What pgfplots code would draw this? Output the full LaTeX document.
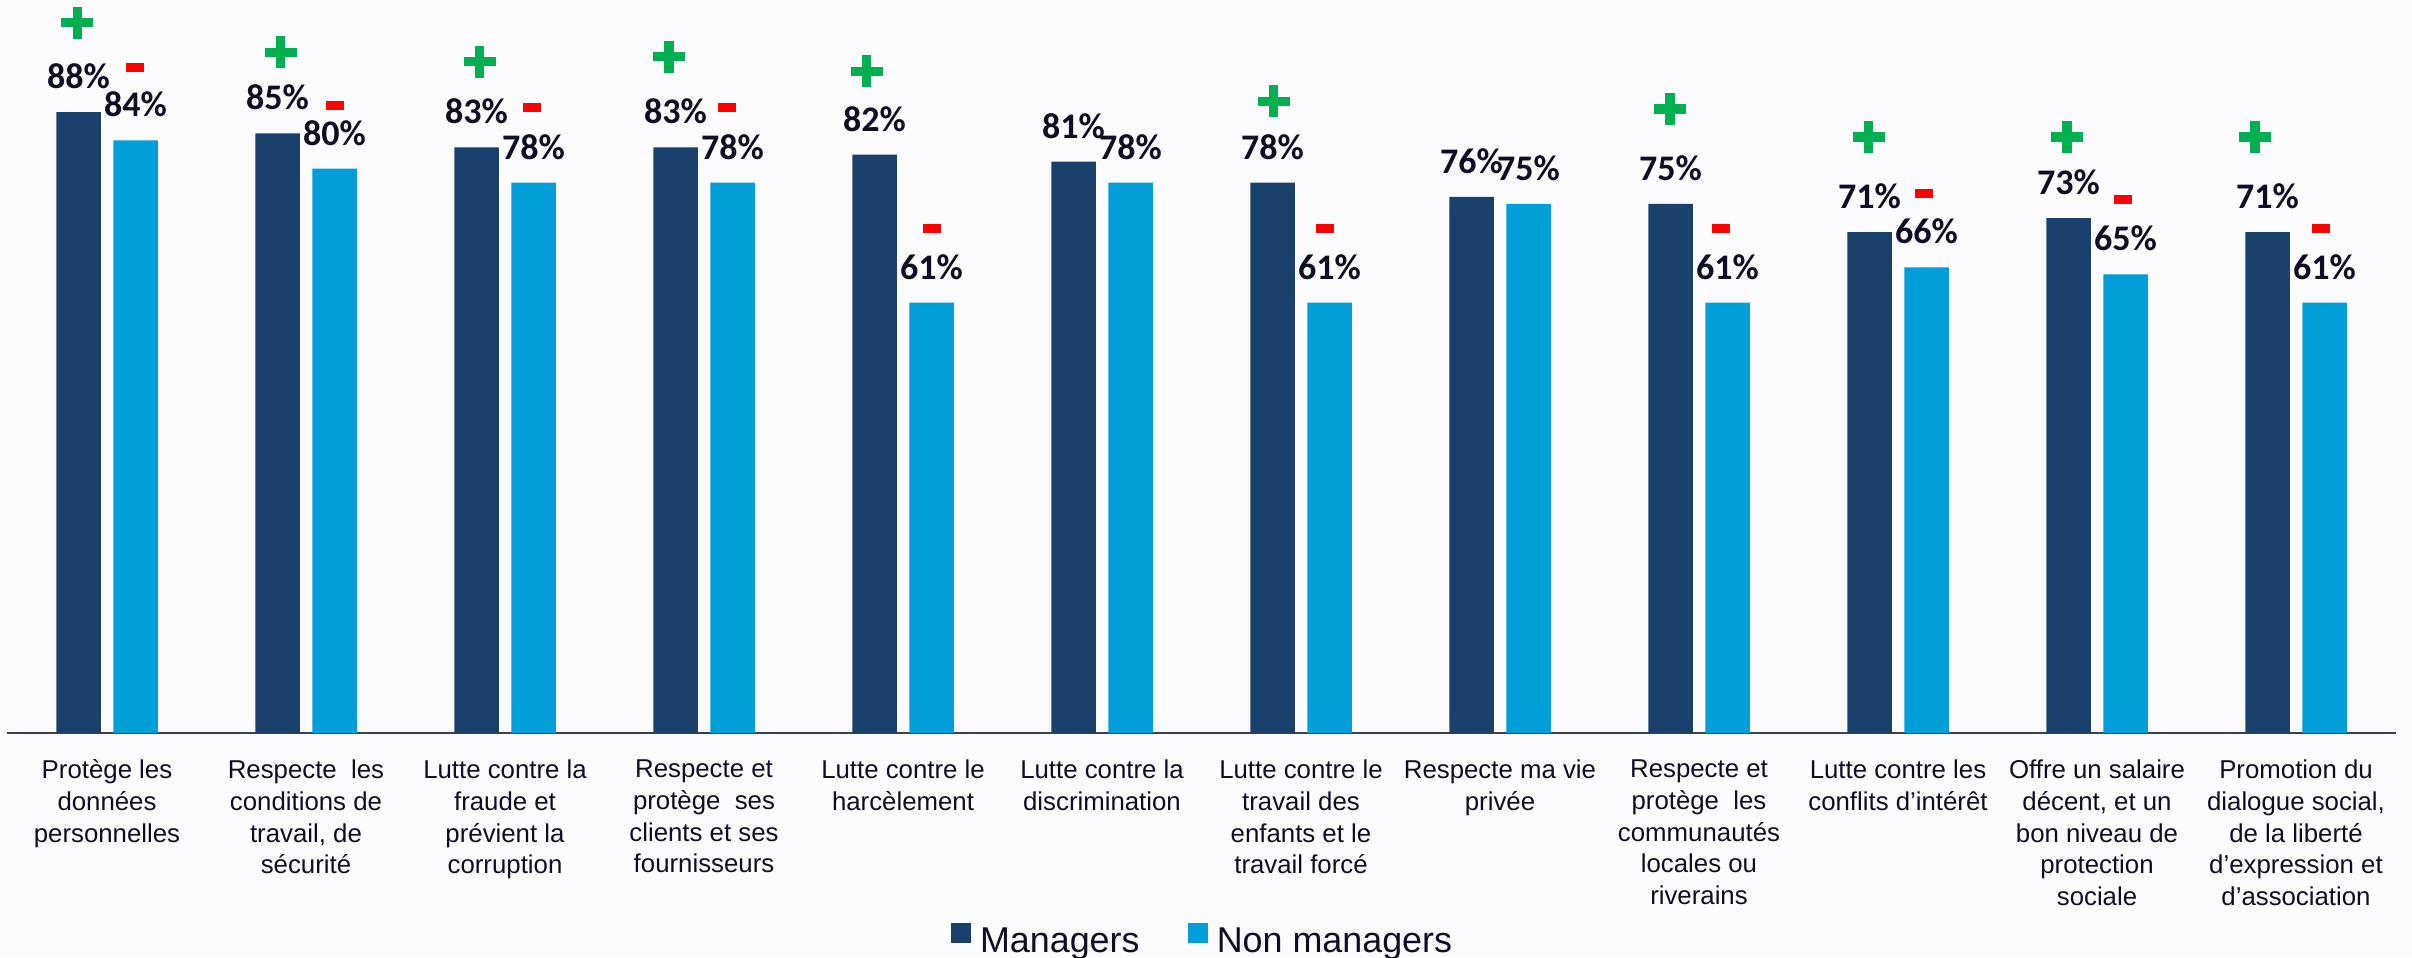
\documentclass[border=0pt]{standalone}
\usepackage{fontspec}
\setmainfont{Liberation Sans}
\newfontfamily\lblfont{Carlito}
\usepackage{pgfplots}
\pgfplotsset{compat=1.18}
\usepackage{pgfplotstable}
\definecolor{mgr}{HTML}{1A406C}
\definecolor{nmgr}{HTML}{009FDA}
\definecolor{txt}{HTML}{0D0D26}
\definecolor{plusg}{HTML}{00B050}
\definecolor{minusr}{HTML}{FF0000}
\definecolor{axl}{HTML}{3C4150}
\definecolor{bg}{HTML}{FCFCFE}

\pgfplotstableread{
x m nm
0 88 84
1 85 80
2 83 78
3 83 78
4 82 61
5 81 78
6 78 61
7 76 75
8 75 61
9 71 66
10 73 65
11 71 61
}\data

\pgfplotstableread{
x y
-0.149 100.7
0.872 96.5
1.872 95.15
2.824 95.86
3.818 93.8
5.862 89.54
7.854 88.45
8.853 84.48
9.849 84.48
10.794 84.48
}\plusdata

\pgfplotstableread{
x y
0.141 94.36
1.146 88.97
2.134 88.63
3.116 88.63
4.144 71.48
6.121 71.48
8.109 71.54
9.129 76.5
10.131 75.65
11.126 71.54
}\minusdata

\begin{document}
\begin{tikzpicture}
\path[use as bounding box, fill=bg] (-1.875pt,-56pt) rectangle (601.125pt,183.25pt);
\begin{axis}[
  width=597pt, height=183.25pt, scale only axis,
  xmin=-0.5, xmax=11.5, ymin=0, ymax=103.9,
  axis x line*=bottom, axis y line=none,
  x axis line style={line width=0.5pt, draw=axl},
  xtick={0,...,11}, major tick length=0pt,
  xticklabels={
    {Protège les\\données\\personnelles},
    {Respecte\ \ les\\conditions de\\travail, de\\sécurité},
    {Lutte contre la\\fraude et\\prévient la\\corruption},
    {Respecte et\\protège\ \ ses\\clients et ses\\fournisseurs},
    {Lutte contre le\\harcèlement},
    {Lutte contre la\\discrimination},
    {Lutte contre le\\travail des\\enfants et le\\travail forcé},
    {Respecte ma vie\\privée},
    {Respecte et\\protège\ \ les\\communautés\\locales ou\\riverains},
    {Lutte contre les\\conflits d’intérêt},
    {Offre un salaire\\décent, et un\\bon niveau de\\protection\\sociale},
    {Promotion du\\dialogue social,\\de la liberté\\d’expression et\\d’association}
  },
  xticklabel style={font=\fontsize{6.45}{7.95}\selectfont, align=center, anchor=north, inner sep=0pt, yshift=-6.5pt, text=txt},
  clip=false,
  legend columns=2,
  legend style={at={(0.5,0)}, anchor=north, yshift=-47.6pt, draw=none, fill=none,
    inner sep=0pt, outer sep=0pt, font=\fontsize{8.97}{10}\selectfont, text=txt,
    nodes={inner sep=0pt}, column sep=2.3pt,
    /tikz/every even column/.append style={column sep=12pt}},
]
\addplot[ybar, bar width=11.125pt, bar shift=-7.125pt, fill=mgr, draw=none,
  point meta=y,
  nodes near coords={\pgfmathprintnumber[assume math mode=true]{\pgfplotspointmeta}\%},
  every node near coord/.append style={font=\fontsize{9}{10}\lblfont\bfseries, text=txt, anchor=base, inner sep=0pt, yshift=5.875pt, xshift=-7.125pt},
  legend image code/.code={\fill[mgr] (0pt,0pt) rectangle (5pt,5pt);}
] table[x=x, y=m] {\data};
\addplot[ybar, bar width=11.125pt, bar shift=7.125pt, fill=nmgr, draw=none,
  point meta=y,
  nodes near coords={\pgfmathprintnumber[assume math mode=true]{\pgfplotspointmeta}\%},
  every node near coord/.append style={font=\fontsize{9}{10}\lblfont\bfseries, text=txt, anchor=base, inner sep=0pt, yshift=5.875pt, xshift=7.125pt},
  legend image code/.code={\fill[nmgr] (0pt,0pt) rectangle (5pt,5pt);}
] table[x=x, y=nm] {\data};
\addplot[only marks, plusg, mark=+, mark size=4pt, mark options={draw=plusg, line width=2.35pt}, forget plot] table[x=x, y=y] {\plusdata};
\addplot[only marks, minusr, mark=-, mark size=2.25pt, mark options={draw=minusr, line width=2.2pt}, forget plot] table[x=x, y=y] {\minusdata};
\legend{Managers, Non managers}
\end{axis}
\end{tikzpicture}
\end{document}
